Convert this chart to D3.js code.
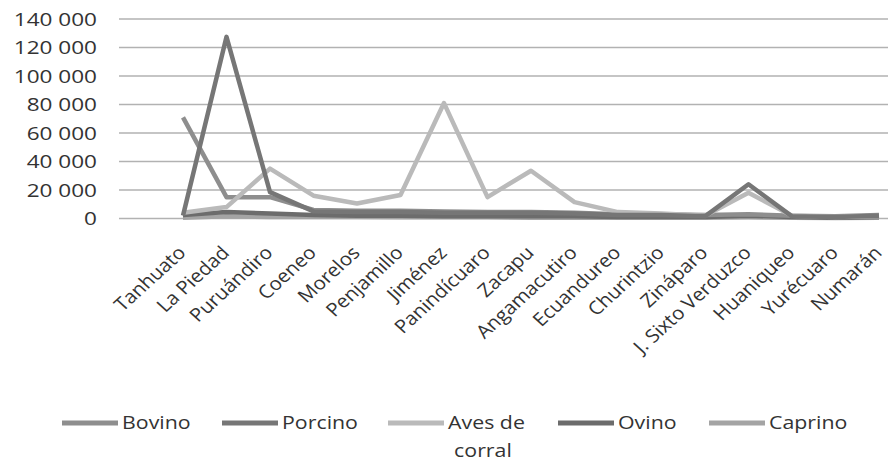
<!DOCTYPE html>
<html><head><meta charset="utf-8">
<script src="https://cdn.jsdelivr.net/npm/d3@7"></script>
<style>body{margin:0;background:#fff}svg{display:block}</style>
</head><body><svg id="c" width="888" height="463"></svg>
<script>
const categories = ["Tanhuato","La Piedad","Puruándiro","Coeneo","Morelos","Penjamillo","Jiménez","Panindícuaro","Zacapu","Angamacutiro","Ecuandureo","Churintzio","Zináparo","J. Sixto Verduzco","Huaniqueo","Yurécuaro","Numarán"];
const seriesNames = ["Bovino","Porcino","Aves de corral","Ovino","Caprino"];
const bovino  = [71000, 15000, 15000, 6000, 5500, 5500, 5000, 4500, 4500, 4000, 3000, 3000, 2500, 3000, 2000, 1500, 2500];
const porcino = [2000, 127500, 18500, 5000, 4500, 4500, 4000, 4000, 4000, 3500, 2500, 2500, 1500, 24000, 1500, 1000, 2000];
const aves    = [4000, 8000, 35000, 16000, 10500, 16500, 81000, 15000, 33500, 11500, 4500, 3500, 2000, 18000, 2000, 1000, 1500];
const ovino   = [2500, 4500, 3500, 2500, 2000, 2000, 1500, 1500, 1500, 1500, 1000, 1000, 1000, 2000, 1000, 500, 1000];
const caprino = [500, 1500, 1000, 1000, 1000, 800, 800, 800, 600, 600, 500, 500, 500, 800, 500, 300, 500];
const yTicks = [0, 20000, 40000, 60000, 80000, 100000, 120000, 140000];
const colors = ["#8e8e8e","#767676","#bababa","#6c6c6c","#a4a4a4"];

const data = [bovino, porcino, aves, ovino, caprino];
const svg = d3.select("#c");
const x = d3.scalePoint().domain(categories).range([183, 879]);
const y = d3.scaleLinear().domain([0, 140000]).range([218.5, 19]);
const gridX0 = 119, gridX1 = 888;
const fmt = v => d3.format(",")(v).replace(/,/g, " ");

svg.append("g").selectAll("line").data(yTicks).join("line")
  .attr("x1", gridX0).attr("x2", gridX1)
  .attr("y1", d => y(d)).attr("y2", d => y(d))
  .attr("stroke", "#b2b2b2").attr("stroke-width", 1.6);

svg.append("g").selectAll("text").data(yTicks).join("text")
  .attr("transform", d => `translate(97,${y(d) + 6.5}) scale(1.22,1)`)
  .attr("text-anchor", "end")
  .attr("font-family", "Open Sans, sans-serif").attr("font-size", 18.5)
  .attr("fill", "#333")
  .text(d => fmt(d));

const line = d3.line().x((d, i) => x(categories[i])).y(d => y(d));
const order = [4, 3, 0, 2, 1];
svg.append("g").selectAll("path").data(order).join("path")
  .attr("d", k => line(data[k]))
  .attr("fill", "none").attr("stroke", k => colors[k])
  .attr("stroke-width", 4.5).attr("stroke-linejoin", "round");

svg.append("g").selectAll("text").data(categories).join("text")
  .attr("transform", d => `translate(${x(d) + 4},${254}) scale(1.1,1) rotate(-45)`)
  .attr("text-anchor", "end")
  .attr("font-family", "Open Sans, sans-serif").attr("font-size", 18.5)
  .attr("fill", "#333")
  .text(d => d);

const legX = [62, 222, 388, 558, 709];
const lg = svg.append("g");
seriesNames.forEach((n, i) => {
  const g = lg.append("g");
  g.append("line").attr("x1", legX[i]).attr("x2", legX[i] + 56).attr("y1", 423).attr("y2", 423)
    .attr("stroke", colors[i]).attr("stroke-width", 5);
  const t = g.append("text")
    .attr("transform", `translate(${legX[i] + 60},429) scale(1.22,1)`)
    .attr("font-family", "Open Sans, sans-serif").attr("font-size", 17.5)
    .attr("fill", "#333");
  if (n === "Aves de corral") {
    t.append("tspan").attr("x", 0).attr("y", 0).text("Aves de");
    t.append("tspan").attr("x", 5).attr("y", 28).text("corral");
  } else t.text(n);
});
</script></body></html>
